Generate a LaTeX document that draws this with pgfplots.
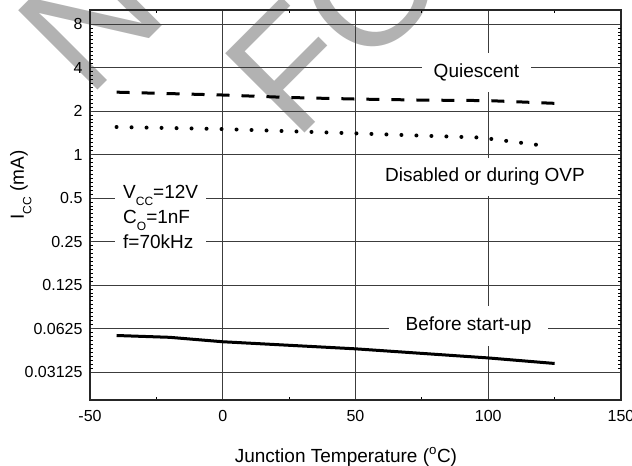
\documentclass[border=0pt]{standalone}
\usepackage{fontspec}
\setmainfont{Liberation Sans}
\usepackage{pgfplots}
\pgfplotsset{compat=1.18}
\definecolor{wmgray}{RGB}{178,178,178}
\definecolor{gridgray}{RGB}{60,60,60}
\newcommand{\ticksize}{\fontsize{16bp}{18bp}\selectfont}
\newcommand{\labsize}{\fontsize{19bp}{25bp}\selectfont}
\newcommand{\sub}[1]{\raisebox{-7.5bp}{\fontsize{12bp}{12bp}\selectfont #1}}
\begin{document}
\begin{tikzpicture}
\useasboundingbox (-90bp,-66bp) rectangle (542bp,400bp);
% watermark behind the chart
\node[rotate=45, anchor=base west, inner sep=0pt, text=wmgray,
  font=\fontsize{163bp}{177bp}\selectfont] at (-2bp,300bp) {NOT RECOMMENDED};
\node[rotate=45, anchor=base west, inner sep=0pt, text=wmgray,
  font=\fontsize{163bp}{177bp}\selectfont] at (205bp,257bp) {FOR NEW DESIGN};
\begin{axis}[
  at={(0,0)}, anchor=south west,
  width=531bp, height=390bp, scale only axis,
  xmin=-50, xmax=150, ymin=0.02, ymax=10,
  ymode=log, log basis y=2,
  xtick={-50,0,50,100,150},
  xticklabels={-50,0,50,100,150},
  minor x tick num=1,
  ytick={0.03125,0.0625,0.125,0.25,0.5,1,2,4,8},
  yticklabels={0.03125,0.0625,0.125,0.25,0.5,1,2,4,8},
  grid=major,
  major grid style={gridgray, line width=0.8bp},
  axis line style={line width=1.3bp, black!85},
  tick style={black, line width=0.8bp},
  major tick length=0pt,
  minor tick length=3bp,
  tick align=inside,
  tick label style={font=\ticksize},
  xticklabel style={yshift=-7bp},
  yticklabel style={xshift=-4bp},
  every axis x label/.style={at={(axis description cs:0.482,0)}, anchor=base, yshift=-62bp, font=\labsize},
  every axis y label/.style={at={(axis description cs:-0.1243,0.5513)}, rotate=90, anchor=base, font=\labsize},
  xlabel={Junction Temperature (\textsuperscript{o}C)},
  ylabel={I\sub{CC} (mA)},
]
% Quiescent
\addplot[black, line width=3bp, dash pattern=on 13bp off 12bp] coordinates {
  (-40,2.70) (0,2.58) (25,2.48) (50,2.42) (75,2.38) (100,2.36) (125,2.26)
};
% Disabled or during OVP
\addplot[black, line width=4bp, line cap=round, dash pattern=on 0bp off 15bp] coordinates {
  (-40,1.55) (0,1.50) (50,1.40) (75,1.35) (97,1.31) (121,1.15)
};
% Before start-up
\addplot[black, line width=3bp] coordinates {
  (-40,0.0559) (-20,0.0543) (0,0.0506) (50,0.0452) (100,0.0391) (125,0.0358)
};
\end{axis}
% minor ticks of the log2 axis, evenly spaced in log space
\begin{axis}[
  at={(0,0)}, anchor=south west,
  width=531bp, height=390bp, scale only axis,
  xmin=-50, xmax=150, ymin=-5.6439, ymax=3.3219,
  axis line style={draw=none},
  xtick=\empty,
  ytick={-5,-4,-3,-2,-1,0,1,2,3}, yticklabels={},
  minor y tick num=10,
  major tick length=0pt, minor tick length=3bp,
  tick align=inside,
  tick style={black, line width=0.8bp},
]
\end{axis}
\node[fill=white, anchor=base, inner xsep=12bp, inner ysep=11bp, font=\labsize] at (386.5bp,322.3bp) {Quiescent};
\node[fill=white, anchor=base, inner xsep=12bp, inner ysep=10bp, font=\labsize] at (395bp,218.3bp) {Disabled or during OVP};
\node[fill=white, anchor=base, inner xsep=17bp, inner ysep=11bp, font=\labsize] at (378.5bp,69.3bp) {Before start-up};
\node[fill=white, anchor=west, align=left, inner xsep=8bp, inner ysep=6bp, font=\labsize] at (25bp,183.5bp)
  {V\sub{CC}=12V\\C\sub{O}=1nF\\f=70kHz};
\end{tikzpicture}
\end{document}
